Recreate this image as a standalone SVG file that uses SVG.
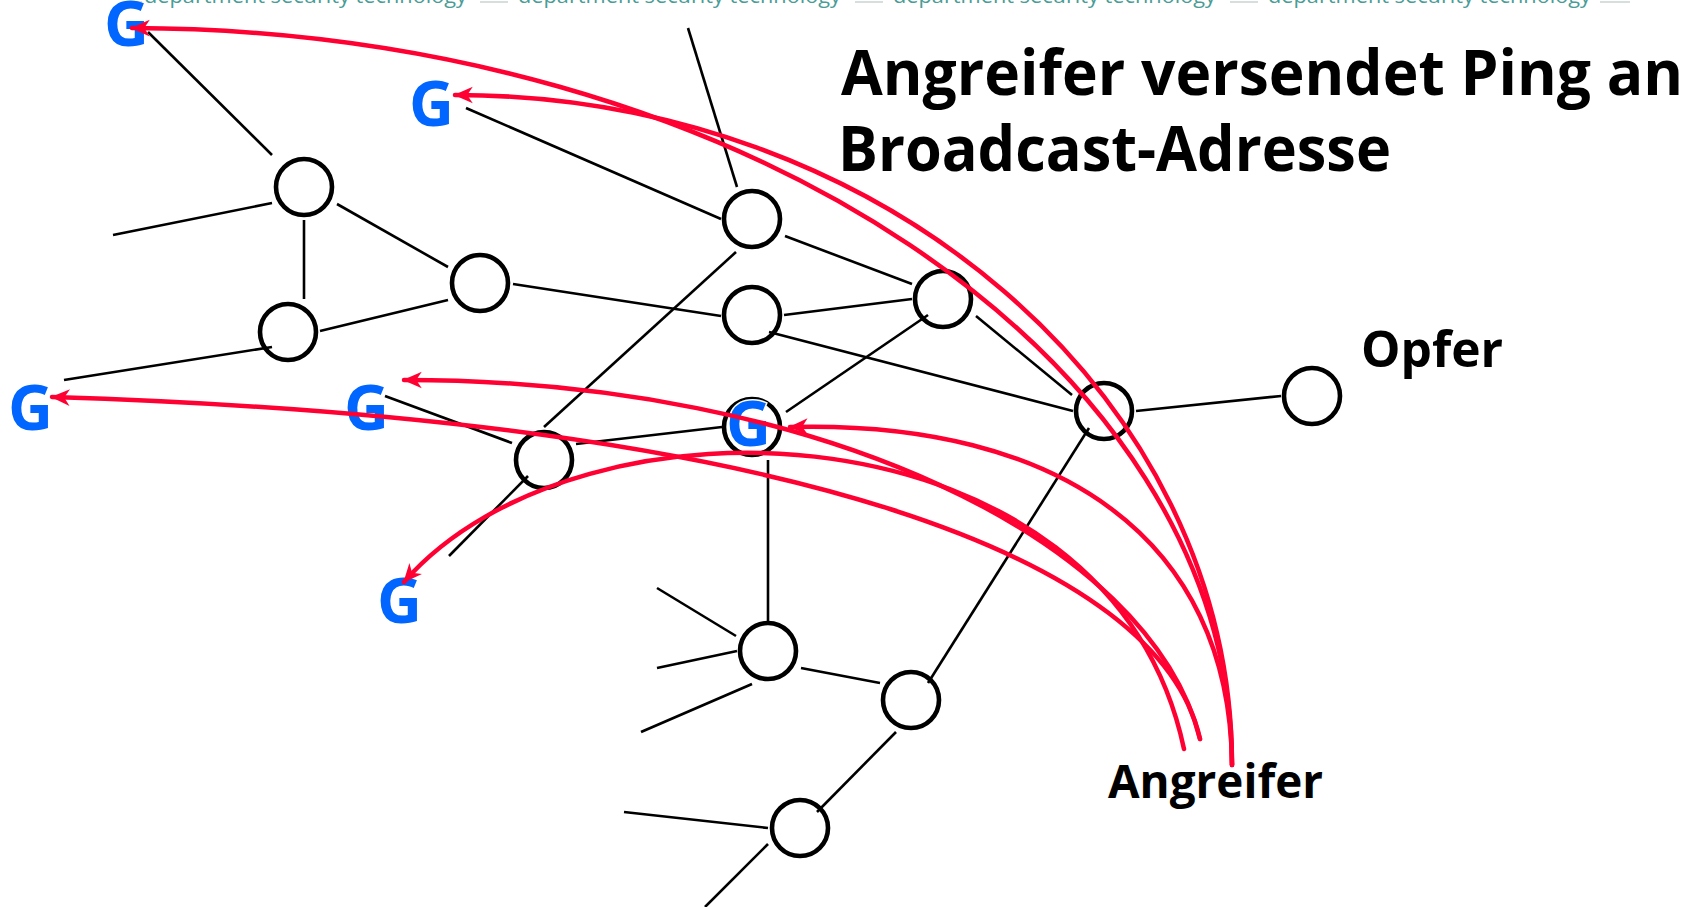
<svg xmlns="http://www.w3.org/2000/svg" width="1704" height="907" viewBox="0 0 1704 907">
  <style>
    .hdr { font-family: "Open Sans", "Noto Sans", sans-serif; font-size: 20px; fill: #4a9c96; }
    .sep { stroke: #c8d4d2; stroke-width: 1.5; }
    .link { stroke: #000; stroke-width: 2.6; fill: none; stroke-linecap: butt; }
    .node { fill: none; stroke: #000; stroke-width: 4.6; }
    .gw { font-family: "Open Sans", "Noto Sans", sans-serif; font-weight: 700; font-size: 62px; fill: #0066ff; }
    .gw-halo { stroke: #fff; stroke-width: 3; paint-order: stroke; }
    .label { font-family: "Open Sans", "Noto Sans", sans-serif; font-weight: 700; fill: #000; }
    .ping { stroke: #ff0033; stroke-width: 4.5; fill: none; stroke-linecap: round; marker-end: url(#tip); }
  </style>
  <defs>
    <marker id="tip" markerUnits="userSpaceOnUse" markerWidth="22" markerHeight="20" viewBox="-17 -9 19 18" refX="0" refY="0" orient="auto">
      <path d="M1,0 L-16,-7.5 L-11,0 L-16,7.5 Z" fill="#ff0033"/>
    </marker>
  </defs>

  <!-- header strip -->
  <g id="header">
    <line class="sep" x1="128" y1="2" x2="142" y2="2"/>
    <text class="hdr" x="144" y="3" textLength="323" lengthAdjust="spacingAndGlyphs">department security technology</text>
    <line class="sep" x1="480" y1="2" x2="508" y2="2"/>
    <text class="hdr" x="518" y="3" textLength="323" lengthAdjust="spacingAndGlyphs">department security technology</text>
    <line class="sep" x1="855" y1="2" x2="883" y2="2"/>
    <text class="hdr" x="893" y="3" textLength="323" lengthAdjust="spacingAndGlyphs">department security technology</text>
    <line class="sep" x1="1230" y1="2" x2="1258" y2="2"/>
    <text class="hdr" x="1268" y="3" textLength="323" lengthAdjust="spacingAndGlyphs">department security technology</text>
    <line class="sep" x1="1600" y1="2" x2="1630" y2="2"/>
  </g>

  <!-- network links -->
  <g id="links">
    <line class="link" x1="148" y1="32" x2="272" y2="155"/>
    <line class="link" x1="113" y1="235" x2="272" y2="203"/>
    <line class="link" x1="304" y1="220" x2="304" y2="299"/>
    <line class="link" x1="337" y1="204" x2="448" y2="267"/>
    <line class="link" x1="320" y1="331" x2="448" y2="300"/>
    <line class="link" x1="64" y1="380" x2="272" y2="347"/>
    <line class="link" x1="513" y1="284" x2="721" y2="316"/>
    <line class="link" x1="466" y1="108" x2="721" y2="219"/>
    <line class="link" x1="688" y1="28" x2="737" y2="187"/>
    <line class="link" x1="785" y1="236" x2="912" y2="284"/>
    <line class="link" x1="736" y1="252" x2="544" y2="427"/>
    <line class="link" x1="784" y1="315" x2="912" y2="299"/>
    <line class="link" x1="769" y1="332" x2="1073" y2="411"/>
    <line class="link" x1="976" y1="316" x2="1072" y2="395"/>
    <line class="link" x1="928" y1="315" x2="786" y2="412"/>
    <line class="link" x1="1136" y1="411" x2="1281" y2="396"/>
    <line class="link" x1="1089" y1="428" x2="928" y2="683"/>
    <line class="link" x1="576" y1="444" x2="722" y2="427"/>
    <line class="link" x1="768" y1="460" x2="768" y2="621"/>
    <line class="link" x1="385" y1="396" x2="512" y2="443"/>
    <line class="link" x1="528" y1="476" x2="449" y2="556"/>
    <line class="link" x1="657" y1="588" x2="736" y2="636"/>
    <line class="link" x1="657" y1="668" x2="737" y2="651"/>
    <line class="link" x1="641" y1="732" x2="752" y2="684"/>
    <line class="link" x1="801" y1="668" x2="880" y2="683"/>
    <line class="link" x1="896" y1="732" x2="817" y2="812"/>
    <line class="link" x1="624" y1="812" x2="768" y2="828"/>
    <line class="link" x1="768" y1="844" x2="705" y2="907"/>
  </g>

  <!-- routers -->
  <g id="n1"><circle class="node" cx="304" cy="187" r="28"/></g>
  <g id="n2"><circle class="node" cx="288" cy="332" r="28"/></g>
  <g id="n3"><circle class="node" cx="480" cy="283" r="28"/></g>
  <g id="n4"><circle class="node" cx="752" cy="219" r="28"/></g>
  <g id="n5"><circle class="node" cx="752" cy="315" r="28"/></g>
  <g id="n6"><circle class="node" cx="943" cy="299" r="28"/></g>
  <g id="n7"><circle class="node" cx="1104" cy="411" r="28"/></g>
  <g id="victim"><circle class="node" cx="1312" cy="396" r="28"/></g>
  <g id="n9"><circle class="node" cx="752" cy="427" r="28"/></g>
  <g id="n10"><circle class="node" cx="544" cy="460" r="28"/></g>
  <g id="n11"><circle class="node" cx="768" cy="651" r="28"/></g>
  <g id="n12"><circle class="node" cx="911" cy="700" r="28"/></g>
  <g id="n13"><circle class="node" cx="800" cy="828" r="28"/></g>

  <!-- gateways -->
  <g id="g1"><text class="gw" x="104" y="46">G</text></g>
  <g id="g2"><text class="gw" x="409" y="126">G</text></g>
  <g id="g3"><text class="gw" x="8" y="430">G</text></g>
  <g id="g4"><text class="gw" x="344" y="430">G</text></g>
  <g id="g5"><text class="gw" x="377" y="623">G</text></g>
  <g id="g6"><text class="gw gw-halo" x="726" y="446">G</text></g>

  <!-- labels -->
  <g id="title">
    <text class="label" x="841" y="95" font-size="63" textLength="842" lengthAdjust="spacingAndGlyphs">Angreifer versendet Ping an</text>
    <text class="label" x="838" y="171" font-size="63" textLength="553" lengthAdjust="spacingAndGlyphs">Broadcast-Adresse</text>
  </g>
  <g id="victim-label"><text class="label" x="1361" y="367" font-size="51" textLength="142" lengthAdjust="spacingAndGlyphs">Opfer</text></g>
  <g id="attacker"><text class="label" x="1108" y="798" font-size="46" textLength="215" lengthAdjust="spacingAndGlyphs">Angreifer</text></g>

  <!-- ping broadcast paths from the attacker -->
  <g id="pings">
    <path class="ping" d="M1232,765 C1232,358 738,30 132,28"/>
    <path class="ping" d="M1232,765 C1232,395 883,95 455,95"/>
    <path class="ping" d="M1200,739 C1160,560 800,420 52,397"/>
    <path class="ping" d="M1200,739 C1150,540 820,380 404,380"/>
    <path class="ping" d="M1184,749 C1110,400 580,380 404,582"/>
    <path class="ping" d="M1232,765 C1230,540 1060,420 790,427"/>
  </g>
</svg>
